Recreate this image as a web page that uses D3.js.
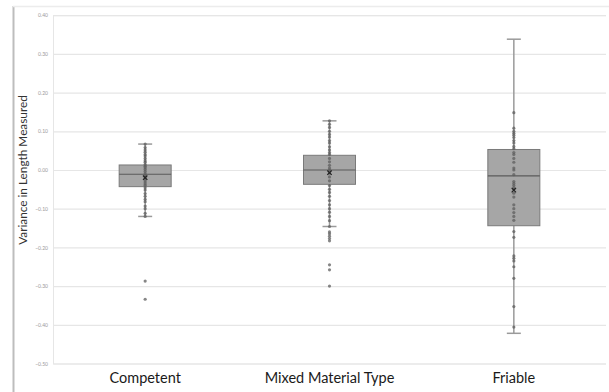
<!DOCTYPE html>
<html><head><meta charset="utf-8">
<script src="https://cdn.jsdelivr.net/npm/d3@7"></script>
<style>body{margin:0;background:#fff}svg{display:block}</style>
</head><body>
<svg id="c" width="609" height="392"></svg>
<script>
const categories = ["Competent", "Mixed Material Type", "Friable"];
const whiskerHigh = [0.067, 0.127, 0.338];
const q3 = [0.013, 0.038, 0.053];
const medians = [-0.011, 0.0, -0.015];
const q1 = [-0.043, -0.037, -0.144];
const whiskerLow = [-0.12, -0.146, -0.422];
const means = [-0.02, -0.007, -0.052];
const competentPoints = [0.067, 0.058, 0.052, 0.046, 0.04, 0.036, 0.03, 0.024, 0.02, 0.014, 0.01, 0.006, 0.001, -0.004, -0.01, -0.016, -0.02, -0.026, -0.031, -0.036, -0.04, -0.046, -0.052, -0.061, -0.068, -0.076, -0.082, -0.093, -0.1, -0.112, -0.12, -0.287, -0.334];
const mixedPoints = [0.127, 0.118, 0.11, 0.1, 0.092, 0.085, 0.076, 0.07, 0.06, 0.052, 0.045, 0.04, 0.03, 0.021, 0.012, 0.005, 0.0, -0.008, -0.018, -0.028, -0.04, -0.05, -0.058, -0.068, -0.079, -0.09, -0.1, -0.109, -0.12, -0.131, -0.146, -0.16, -0.165, -0.171, -0.177, -0.183, -0.245, -0.258, -0.3];
const friablePoints = [0.148, 0.108, 0.1, 0.095, 0.09, 0.084, 0.076, 0.07, 0.061, 0.055, 0.045, 0.04, 0.03, 0.02, 0.005, 0.0, -0.012, -0.03, -0.035, -0.04, -0.046, -0.05, -0.06, -0.07, -0.09, -0.1, -0.11, -0.12, -0.13, -0.159, -0.174, -0.222, -0.228, -0.235, -0.25, -0.28, -0.353, -0.406];
const yTicks = [0.4, 0.3, 0.2, 0.1, 0.0, -0.1, -0.2, -0.3, -0.4, -0.5];

const points = [competentPoints, mixedPoints, friablePoints];
const svg = d3.select("#c");
const mLeft = 53, mRight = 606, mTop = 15.2, mBottom = 363.5;
const x = d3.scaleBand().domain(categories).range([mLeft, mRight]);
const y = d3.scaleLinear().domain([-0.5, 0.4]).range([mBottom, mTop]);

// frame
svg.append("line").attr("x1", 13.5).attr("x2", 13.5).attr("y1", 6).attr("y2", 392).attr("stroke", "#bdbdbd").attr("stroke-width", 2);
svg.append("line").attr("x1", 13).attr("x2", 609).attr("y1", 6.5).attr("y2", 6.5).attr("stroke", "#ececec").attr("stroke-width", 1.5);

// gridlines
const yAxis = d3.axisLeft(y).tickValues(yTicks).tickFormat(d3.format(".2f")).tickSize(-(mRight - mLeft)).tickPadding(5);
const gy = svg.append("g").attr("transform", `translate(${mLeft},0)`).call(yAxis);
gy.select(".domain").attr("stroke", "#e6e6e6");
gy.selectAll(".tick line").attr("stroke", "#e6e6e6").attr("stroke-width", 1.2);
gy.selectAll(".tick text").attr("fill", "#9a9a9a").attr("font-size", 5).attr("font-family", "Lato, sans-serif");

// y title
svg.append("text").attr("transform", `translate(22.5,170) rotate(-90)`).attr("text-anchor", "middle").attr("dy", "0.35em")
  .attr("font-family", "Lato, sans-serif").attr("font-size", 11.8).attr("fill", "#333").text("Variance in Length Measured");

// x labels
const gx = svg.append("g").attr("transform", `translate(0,${mBottom})`).call(d3.axisBottom(x).tickSize(0).tickPadding(9));
gx.select(".domain").remove();
gx.selectAll(".tick text").attr("font-family", "Lato, sans-serif").attr("font-size", 14.5).attr("fill", "#1a1a1a");

const boxW = 52, capW = 14;
categories.forEach((c, i) => {
  const cx = x(c) + x.bandwidth() / 2;
  const g = svg.append("g");
  g.append("line").attr("x1", cx).attr("x2", cx).attr("y1", y(whiskerHigh[i])).attr("y2", y(whiskerLow[i])).attr("stroke", "#9a9a9a").attr("stroke-width", 1.5);
  [whiskerHigh[i], whiskerLow[i]].forEach(v => g.append("line").attr("x1", cx - capW / 2).attr("x2", cx + capW / 2).attr("y1", y(v)).attr("y2", y(v)).attr("stroke", "#9a9a9a").attr("stroke-width", 1.5));
  g.append("rect").attr("x", cx - boxW / 2).attr("width", boxW).attr("y", y(q3[i])).attr("height", y(q1[i]) - y(q3[i]))
    .attr("fill", "#a6a6a6").attr("stroke", "#7a7a7a").attr("stroke-width", 1);
  g.append("line").attr("x1", cx - boxW / 2).attr("x2", cx + boxW / 2).attr("y1", y(medians[i])).attr("y2", y(medians[i])).attr("stroke", "#5a5a5a").attr("stroke-width", 1.2);
  g.selectAll("circle").data(points[i]).join("circle").attr("cx", cx).attr("cy", d => y(d)).attr("r", 1.6)
    .attr("fill", "#5e5e5e").attr("fill-opacity", 0.75);
  const my = y(means[i]), s = 2.2;
  g.append("path").attr("d", `M${cx - s},${my - s}L${cx + s},${my + s}M${cx - s},${my + s}L${cx + s},${my - s}`).attr("stroke", "#222").attr("stroke-width", 1.2);
});
</script>
</body></html>
